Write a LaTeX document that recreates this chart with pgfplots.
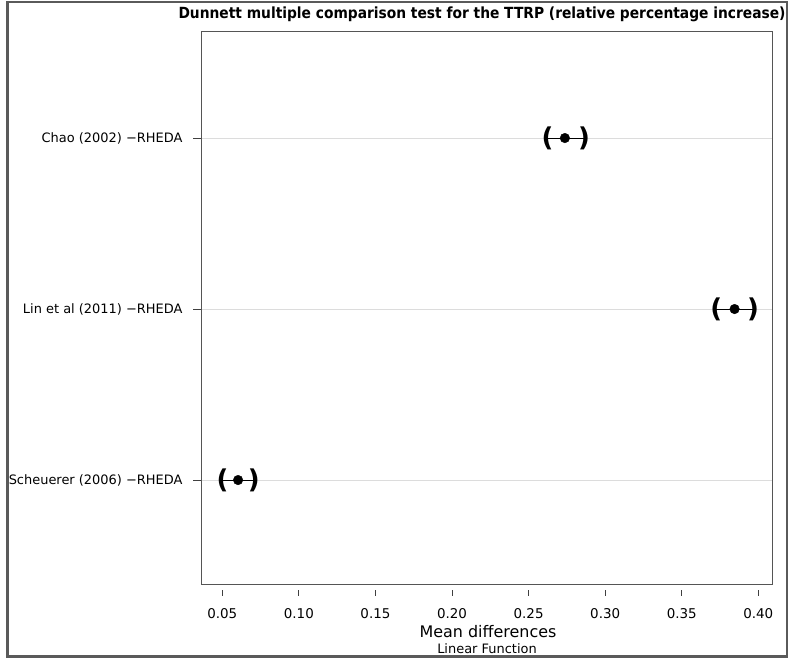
\documentclass[border=0pt]{standalone}
\usepackage{pgfplots}
\pgfplotsset{compat=1.18}
\usepackage{fontspec}
\setmainfont{DejaVu Sans}
\newfontfamily\titlefont{DejaVu Sans Condensed}
\definecolor{framegray}{HTML}{5A5A5A}
\definecolor{boxgray}{HTML}{555555}
\definecolor{gridgray}{HTML}{DCDCDC}
\begin{document}
\begin{tikzpicture}[x=1bp,y=1bp]
\useasboundingbox (0,0) rectangle (791,660);
\begin{axis}[
  at={(201bp,75.3bp)}, anchor=south west,
  width=571.7bp, height=553bp, scale only axis,
  xmin=0.0361, xmax=0.4094,
  ymin=0.388, ymax=3.622,
  xtick=\empty,
  ytick={1,2,3},
  yticklabels={Scheuerer (2006) −RHEDA, Lin et al (2011) −RHEDA, Chao (2002) −RHEDA},
  ytick pos=left,
  tick align=outside,
  major tick length=8bp,
  ytick style={black!75, line width=0.9bp},
  axis line style={boxgray, line width=0.8bp},
  yticklabel style={font=\fontsize{13}{15}\selectfont, xshift=-7bp},
  ymajorgrids, grid style={gridgray, line width=0.9bp},
  clip=false,
]
% CI lines
\addplot[black, line width=1bp] coordinates {(0.2624,3) (0.2862,3)};
\addplot[black, line width=1bp] coordinates {(0.3725,2) (0.3965,2)};
\addplot[black, line width=1bp] coordinates {(0.0502,1) (0.0705,1)};
% lower bounds
\addplot[only marks, mark=text, text mark as node=true, text mark={\fontsize{26}{26}\selectfont\bfseries (}, text mark style={anchor=center, inner sep=0pt}] coordinates {(0.2624,3) (0.3725,2) (0.0502,1)};
% upper bounds
\addplot[only marks, mark=text, text mark as node=true, text mark={\fontsize{26}{26}\selectfont\bfseries )}, text mark style={anchor=center, inner sep=0pt}] coordinates {(0.2862,3) (0.3965,2) (0.0705,1)};
% estimates
\addplot[only marks, mark=*, mark size=4.8bp, black] coordinates {(0.2737,3) (0.3845,2) (0.0603,1)};
\end{axis}
% separate x tick row, offset below the box
\begin{axis}[
  at={(201bp,70bp)}, anchor=south west,
  width=571.7bp, height=10bp, scale only axis,
  xmin=0.0361, xmax=0.4094, ymin=0, ymax=1,
  axis x line=bottom, axis y line=none,
  axis line style={draw=none},
  xtick={0.05,0.10,0.15,0.20,0.25,0.30,0.35,0.40},
  xticklabels={0.05,0.10,0.15,0.20,0.25,0.30,0.35,0.40},
  tick align=outside,
  major tick length=6bp,
  xtick style={black!75, line width=0.9bp},
  xticklabel style={font=\fontsize{13.5}{15}\selectfont, inner sep=0pt, yshift=-12bp},
]
\end{axis}
\node[anchor=base, font=\fontsize{15.4}{17}\titlefont\bfseries, inner sep=0] at (482,641) {Dunnett multiple comparison test for the TTRP (relative percentage increase)};
\node[anchor=base, font=\fontsize{16}{18}\selectfont, inner sep=0] at (488,22.5) {Mean differences};
\node[anchor=base, font=\fontsize{13}{14}\selectfont, inner sep=0] at (487,6) {Linear Function};
\draw[framegray, line width=2.5bp] (7.5,3.5) rectangle (787,658);
\end{tikzpicture}
\end{document}
